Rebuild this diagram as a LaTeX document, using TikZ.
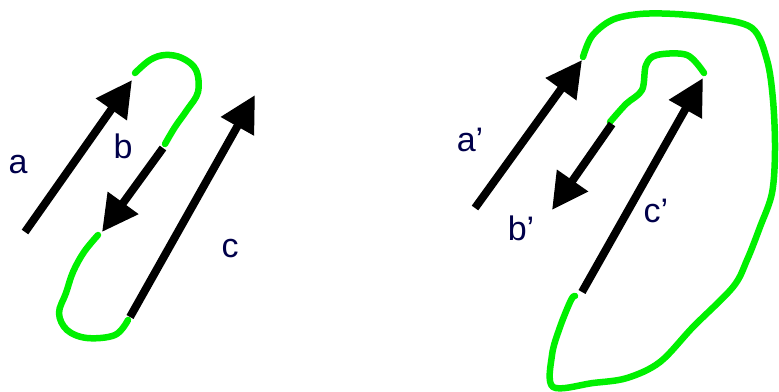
\documentclass[tikz,border=0pt]{standalone}
\usepackage{fontspec}
\setmainfont{Liberation Sans}
\usetikzlibrary{arrows.meta}
\definecolor{lblue}{HTML}{00004A}
\definecolor{lgreen}{HTML}{00F000}
\tikzset{
  vec/.style={line width=8pt,black,-{Triangle[length=36pt,width=36pt]}},
  loopline/.style={line width=6.5pt,lgreen,line join=round,line cap=round},
  lbl/.style={text=lblue,font=\fontsize{34}{34}\selectfont,inner sep=0pt}
}
\begin{document}
\begin{tikzpicture}[x=1pt,y=-1pt]
\useasboundingbox (0,0) rectangle (779,391);
% left panel
\coordinate (aT) at (25,232);
\coordinate (aH) at (132,80);
\coordinate (bT) at (163,148);
\coordinate (bH) at (102,232);
\coordinate (cT) at (130,317);
\coordinate (cH) at (255,95);
\draw[loopline] plot[smooth,tension=0.6] coordinates {(135,73) (150,60) (165,55) (182,58) (196,70) (198,92) (187,110) (175,127) (165,144)};
\draw[loopline] plot[smooth,tension=0.6] coordinates {(98,235) (84,252) (73,272) (66,293) (59,313) (67,330) (87,338) (115,335) (128,320)};
\draw[vec] (aT) -- (aH);
\draw[vec] (bT) -- (bH);
\draw[vec] (cT) -- (cH);
\node[lbl] (la) at (18,165) {a};
\node[lbl] (lb) at (123,146) {b};
\node[lbl] (lc) at (230,249) {c};
% right panel
\coordinate (apT) at (475,208);
\coordinate (apH) at (582,60);
\coordinate (bpT) at (612,124);
\coordinate (bpH) at (552,210);
\coordinate (cpT) at (582,292);
\coordinate (cpH) at (703,78);
\draw[loopline] plot[smooth,tension=0.55] coordinates {(583,57) (592,36) (612,20) (640,14) (675,14) (713,18) (752,28) (767,60) (773,100) (775,150) (772,193) (760,227) (747,260) (733,287) (693,327) (660,362) (627,378) (593,383) (553,387) (552,355) (560,327) (571,300) (575,296)};
\draw[loopline] plot[smooth,tension=0.55] coordinates {(610,122) (626,104) (642,90) (646,65) (657,55) (687,55) (704,73)};
\draw[vec] (apT) -- (apH);
\draw[vec] (bpT) -- (bpH);
\draw[vec] (cpT) -- (cpH);
\node[lbl] (lap) at (470,140) {a'};
\node[lbl] (lbp) at (521,228) {b'};
\node[lbl] (lcp) at (656,211) {c'};
\end{tikzpicture}
\end{document}
